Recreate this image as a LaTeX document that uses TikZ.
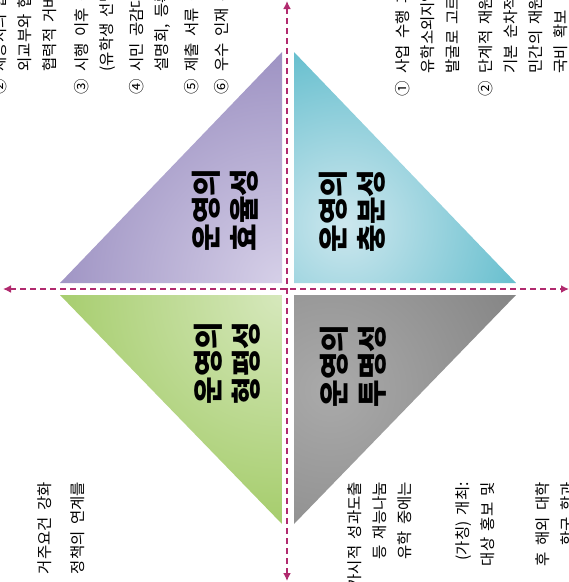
\documentclass[tikz,border=0pt]{standalone}
\usepackage{fontspec}
\usepackage{tikz}
\usetikzlibrary{arrows.meta}
\newfontfamily\kr{Noto Sans CJK KR}[WordSpace=1.8]
\newfontfamily\krheavy{Noto Sans CJK KR Black}
\definecolor{axis}{HTML}{B12A6E}
\definecolor{effDark}{HTML}{7566A8}
\definecolor{effLight}{HTML}{D6D0E8}
\definecolor{sufDark}{HTML}{2FA9BD}
\definecolor{sufLight}{HTML}{CDE7EE}
\definecolor{equDark}{HTML}{86BB38}
\definecolor{equLight}{HTML}{D6E8BC}
\definecolor{trnDark}{HTML}{6E6E6E}
\definecolor{trnLight}{HTML}{AAAAAA}

\begin{document}
\begin{tikzpicture}[x=1pt,y=-1pt,>=Latex,
  quadtext/.style={rotate=90,inner sep=0,align=center,font=\krheavy\fontsize{30}{38}\selectfont},
  memo/.style={rotate=90,inner sep=0,font=\kr\fontsize{15.5}{25}\selectfont},
  axisline/.style={{Latex[length=8pt,width=8pt]}-{Latex[length=8pt,width=8pt]},axis,line width=1.8pt,dash pattern=on 6pt off 4pt}]
\useasboundingbox (0,0) rectangle (569,582);
\clip (0,0) rectangle (569,582);

% diamond made of four shaded triangles
\begin{scope}
  \clip (60,283) -- (282,283) -- (282,52) -- cycle;
  \shade[inner color=effLight,outer color=effDark] (282,283) circle (400);
\end{scope}
\begin{scope}
  \clip (294,52) -- (294,283) -- (516,283) -- cycle;
  \shade[inner color=sufLight,outer color=sufDark] (345,225) circle (280);
\end{scope}
\begin{scope}
  \clip (60,295) -- (282,295) -- (282,524) -- cycle;
  \shade[inner color=equLight,outer color=equDark] (282,295) circle (380);
\end{scope}
\begin{scope}
  \clip (294,295) -- (516,295) -- (294,524) -- cycle;
  \shade[inner color=trnLight,outer color=trnDark] (330,390) circle (340);
\end{scope}

% axes
\coordinate (W) at (3,289);
\coordinate (E) at (569,289);
\coordinate (N) at (287,1);
\coordinate (S) at (287,581);
\draw[axisline] (W) -- (E);
\draw[axisline] (N) -- (S);

\node[quadtext] (eff) at (225,210) {운영의\\효율성};
\node[quadtext] (suf) at (352,211) {운영의\\충분성};
\node[quadtext] (equ) at (227,363) {운영의\\형평성};
\node[quadtext] (trn) at (353,366) {운영의\\투명성};

% notes, cut by the page edge
\node[memo,anchor=north west] (r2) at (-12,95) {\begin{tabular}{@{}l@{\hspace{8pt}}l@{}}② & 제공지의 협력\\ & 외교부와 협력\\ & 협력적 거버넌스\end{tabular}};
\node[memo,anchor=north west] (r3) at (70,95) {\begin{tabular}{@{}l@{\hspace{8pt}}l@{}}③ & 시행 이후 성과\\ & (유학생 선발\end{tabular}};
\node[memo,anchor=north west] (r4) at (125,95) {\begin{tabular}{@{}l@{\hspace{8pt}}l@{}}④ & 시민 공감대\\ & 설명회, 등록\end{tabular}};
\node[memo,anchor=north west] (r5) at (180,95) {\begin{tabular}{@{}l@{\hspace{8pt}}l@{}}⑤ & 제출 서류 간소\end{tabular}};
\node[memo,anchor=north west] (r6) at (210,95) {\begin{tabular}{@{}l@{\hspace{8pt}}l@{}}⑥ & 우수 인재 유치\end{tabular}};
\node[memo,anchor=north west] (r1) at (391,97) {\begin{tabular}{@{}l@{\hspace{8pt}}l@{}}① & 사업 수행 과정\\ & 유학소외지역\\ & 발굴로 고르게\end{tabular}};
\node[memo,anchor=north west] (r7) at (474,97) {\begin{tabular}{@{}l@{\hspace{8pt}}l@{}}② & 단계적 재원\\ & 기본 순차적\\ & 민간의 재원\\ & 국비 확보\end{tabular}};

\node[memo,anchor=north east] (l1) at (33,482) {\begin{tabular}{@{}r@{}}거주요건 강화\end{tabular}};
\node[memo,anchor=north east] (l2) at (66,482) {\begin{tabular}{@{}r@{}}정책의 연계를\end{tabular}};
\node[memo,anchor=north east] (l3) at (343,482) {\begin{tabular}{@{}r@{}}가시적 성과도출\\등 재능나눔\\유학 중에는\end{tabular}};
\node[memo,anchor=north east] (l4) at (451,482) {\begin{tabular}{@{}r@{}}(가칭) 개최:\\대상 홍보 및\end{tabular}};
\node[memo,anchor=north east] (l5) at (531,482) {\begin{tabular}{@{}r@{}}후 해외 대학\\한국 학과\end{tabular}};
\end{tikzpicture}
\end{document}
